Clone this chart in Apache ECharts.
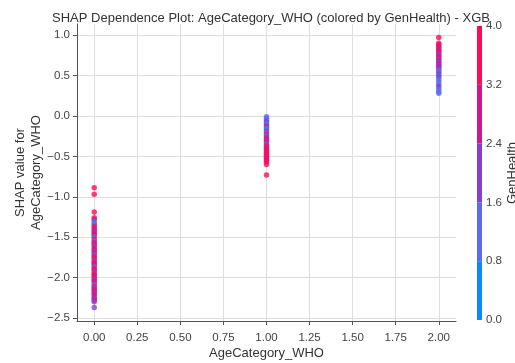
<!DOCTYPE html>
<html>
<head>
<meta charset="utf-8">
<script src="https://cdn.jsdelivr.net/npm/echarts@6/dist/echarts.min.js"></script>
<style>
  html, body { margin: 0; padding: 0; background: #fff; }
  #main { width: 515px; height: 363px; }
</style>
</head>
<body>
<div id="main"></div>
<script>
// AgeCategory_WHO = 0
const shapAge0 = [-0.89, -0.97, -1.19, -1.26, -1.28, -1.31, -1.33, -1.35, -1.37, -1.40, -1.42, -1.44, -1.46, -1.48, -1.50, -1.53, -1.55, -1.57, -1.59, -1.61, -1.64, -1.66, -1.68, -1.70, -1.72, -1.74, -1.76, -1.79, -1.81, -1.83, -1.85, -1.87, -1.89, -1.91, -1.94, -1.96, -1.98, -2.00, -2.02, -2.04, -2.06, -2.09, -2.11, -2.13, -2.15, -2.17, -2.19, -2.21, -2.24, -2.26, -2.28, -2.30, -2.37];
const genAge0  = [4, 4, 4, 4, 3, 1, 1, 1, 4, 3, 4, 2, 4, 3, 1, 4, 1, 3, 4, 2, 4, 3, 2, 4, 1, 3, 4, 2, 4, 3, 4, 1, 3, 4, 2, 4, 3, 4, 2, 4, 3, 1, 4, 2, 3, 4, 2, 3, 4, 2, 3, 2, 2];
// AgeCategory_WHO = 1
const shapAge1 = [-0.01, -0.03, -0.05, -0.07, -0.09, -0.11, -0.13, -0.15, -0.17, -0.19, -0.21, -0.23, -0.25, -0.27, -0.29, -0.31, -0.33, -0.35, -0.37, -0.39, -0.41, -0.43, -0.45, -0.47, -0.49, -0.51, -0.53, -0.55, -0.57, -0.60, -0.73];
const genAge1  = [1, 1, 1, 2, 1, 1, 3, 1, 1, 2, 1, 4, 1, 3, 4, 2, 4, 1, 4, 3, 4, 4, 3, 4, 4, 4, 4, 3, 4, 4, 4];
// AgeCategory_WHO = 2
const shapAge2 = [0.97, 0.90, 0.88, 0.86, 0.84, 0.82, 0.80, 0.78, 0.76, 0.74, 0.72, 0.70, 0.68, 0.66, 0.64, 0.62, 0.60, 0.58, 0.56, 0.54, 0.52, 0.50, 0.48, 0.45, 0.42, 0.39, 0.36, 0.33, 0.30, 0.28];
const genAge2  = [4, 4, 4, 3, 4, 3, 4, 3, 2, 3, 4, 2, 3, 2, 3, 2, 3, 2, 1, 1, 2, 1, 2, 1, 1, 1, 2, 1, 1, 1];

const ageCategories = [0, 1, 2];
const xTicks = [0, 0.25, 0.5, 0.75, 1, 1.25, 1.5, 1.75, 2];
const yTicks = [-2.5, -2.0, -1.5, -1.0, -0.5, 0.0, 0.5, 1.0];
const colorbarTicks = [0, 0.8, 1.6, 2.4, 3.2, 4.0];
const bandSizes = [0.8, 0.8, 0.8, 0.8, 0.8];
const bandColors = ['#0a8af6', '#5a6ced', '#8a3fc9', '#cc1698', '#ff0a56'];

function bandOf(v) {
  return Math.min(4, Math.floor(v / 0.8 + 1e-9));
}

function buildPoints(x, ys, gs) {
  let pts = [];
  for (let i = 0; i < ys.length; i++) {
    pts.push({ value: [x, ys[i]], itemStyle: { color: bandColors[bandOf(gs[i])] } });
  }
  return pts;
}

const allPoints = []
  .concat(buildPoints(ageCategories[0], shapAge0, genAge0))
  .concat(buildPoints(ageCategories[1], shapAge1, genAge1))
  .concat(buildPoints(ageCategories[2], shapAge2, genAge2));

const textColor = '#333';
const tickColor = '#444';
const font = 'Liberation Sans, Arial, sans-serif';

let chart = echarts.init(document.getElementById('main'));

const options = {
  animation: false,
  textStyle: { fontFamily: font },
  title: {
    text: 'SHAP Dependence Plot: AgeCategory_WHO (colored by GenHealth) - XGB',
    left: 266,
    top: 7,
    textAlign: 'center',
    textStyle: { fontSize: 13, fontWeight: 'normal', color: textColor, fontFamily: font }
  },
  grid: [
    { left: 77, right: 59, top: 24, bottom: 42, outerBoundsMode: 'none' },
    { left: 477, width: 5, top: 26, bottom: 43, outerBoundsMode: 'none' }
  ],
  xAxis: [
    {
      gridIndex: 0,
      type: 'value',
      min: -0.1,
      max: 2.1,
      name: 'AgeCategory_WHO',
      nameLocation: 'middle',
      nameGap: 26,
      nameMoveOverlap: false,
      nameTextStyle: { fontSize: 13, color: textColor },
      axisLine: { show: true, onZero: false, lineStyle: { color: '#555', width: 1 } },
      axisTick: { show: true, length: 4, customValues: xTicks, lineStyle: { color: '#555' } },
      axisLabel: {
        customValues: xTicks,
        color: tickColor, fontSize: 11.5, margin: 11,
        formatter: v => v.toFixed(2)
      },
      splitLine: { show: true, lineStyle: { color: '#dedede', width: 1 } }
    },
    {
      gridIndex: 1,
      type: 'category',
      data: ['GenHealth'],
      show: false
    }
  ],
  yAxis: [
    {
      gridIndex: 0,
      type: 'value',
      min: -2.537,
      max: 1.137,
      name: 'SHAP value for\nAgeCategory_WHO',
      nameLocation: 'middle',
      nameRotate: 90,
      nameGap: 33,
      nameMoveOverlap: false,
      nameTextStyle: { fontSize: 13, color: textColor, lineHeight: 16 },
      axisLine: { show: true, onZero: false, lineStyle: { color: '#555', width: 1 } },
      axisTick: { show: true, length: 4, customValues: yTicks, lineStyle: { color: '#555' } },
      axisLabel: {
        customValues: yTicks,
        color: tickColor, fontSize: 11.5, margin: 7,
        formatter: v => (v < 0 ? '\u2212' + Math.abs(v).toFixed(1) : v.toFixed(1))
      },
      splitLine: { show: true, lineStyle: { color: '#dedede', width: 1 } }
    },
    {
      gridIndex: 1,
      type: 'value',
      position: 'right',
      min: 0,
      max: 4,
      name: 'GenHealth',
      nameLocation: 'middle',
      nameRotate: 90,
      nameGap: 24,
      nameMoveOverlap: false,
      nameTextStyle: { fontSize: 13, color: textColor },
      axisLine: { show: false },
      axisTick: { show: false },
      axisLabel: {
        customValues: colorbarTicks,
        color: tickColor, fontSize: 11.5, margin: 4,
        formatter: v => v.toFixed(1)
      },
      splitLine: { show: false }
    }
  ],
  series: [
    {
      type: 'scatter',
      xAxisIndex: 0,
      yAxisIndex: 0,
      symbolSize: 5.5,
      data: allPoints,
      z: 3
    }
  ].concat(bandColors.map((c, i) => ({
    type: 'bar',
    xAxisIndex: 1,
    yAxisIndex: 1,
    stack: 'cbar',
    barWidth: 5,
    data: [bandSizes[i]],
    itemStyle: { color: c },
    silent: true
  })))
};

chart.setOption(options);
</script>
</body>
</html>
